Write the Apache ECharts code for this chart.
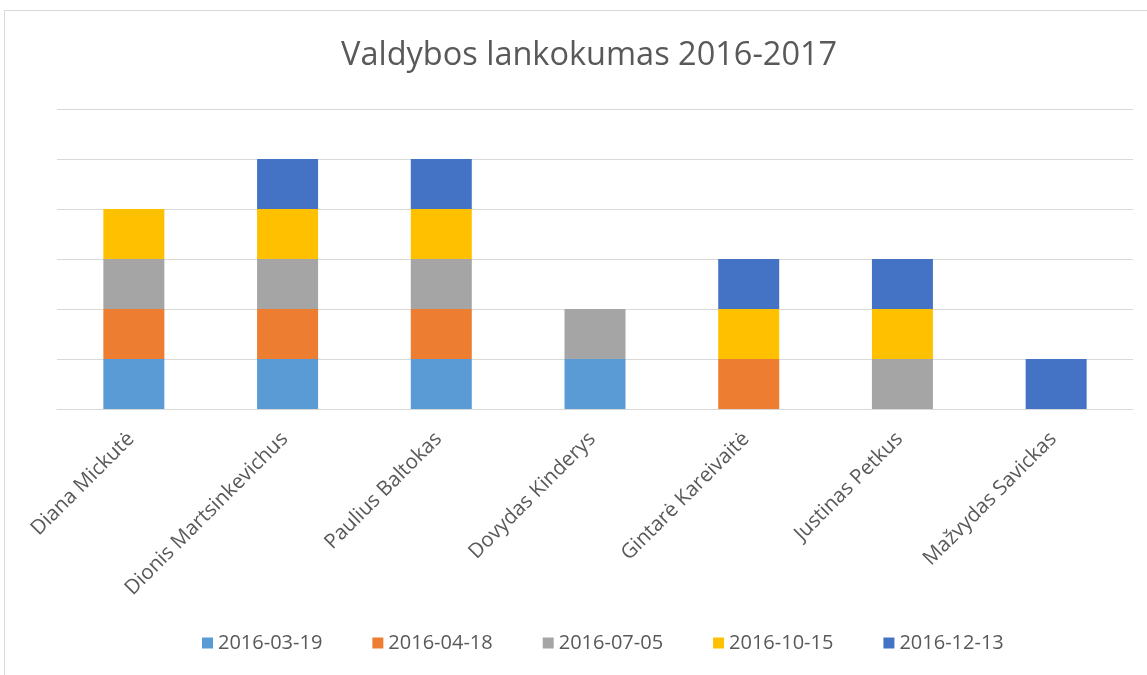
<!DOCTYPE html>
<html>
<head>
<meta charset="utf-8">
<script src="https://cdn.jsdelivr.net/npm/echarts@6/dist/echarts.min.js"></script>
<style>
  html, body { margin: 0; padding: 0; background: #fff; }
  #frame { position: absolute; left: 4px; top: 10px; width: 1150px; height: 670px; border: 1px solid #d9d9d9; box-sizing: border-box; }
  #main { position: absolute; left: 0; top: 0; width: 1147px; height: 675px; }
</style>
</head>
<body>
<div id="frame"></div>
<div id="main"></div>
<script>
var names = ['Diana Mickutė', 'Dionis Martsinkevichus', 'Paulius Baltokas', 'Dovydas Kinderys', 'Gintarė Kareivaitė', 'Justinas Petkus', 'Mažvydas Savickas'];
var dates = ['2016-03-19', '2016-04-18', '2016-07-05', '2016-10-15', '2016-12-13'];
var colors = ['#5B9BD5', '#ED7D31', '#A5A5A5', '#FFC000', '#4472C4'];
var d0319 = [1, 1, 1, 1, 0, 0, 0];
var d0418 = [1, 1, 1, 0, 1, 0, 0];
var d0705 = [1, 1, 1, 1, 0, 1, 0];
var d1015 = [1, 1, 1, 0, 1, 1, 0];
var d1213 = [0, 1, 1, 0, 1, 1, 1];
var values = [d0319, d0418, d0705, d1015, d1213];

var chart = echarts.init(document.getElementById('main'));
var series = [];
dates.forEach(function(d, i){
  series.push({
    name: d,
    type: 'bar',
    stack: 'total',
    barWidth: 61,
    itemStyle: { color: colors[i] },
    data: values[i]
  });
});

var option = {
  animation: false,
  title: {
    text: 'Valdybos lankokumas 2016-2017',
    left: 336,
    top: 34,
    textStyle: { fontFamily: 'Open Sans', fontWeight: 'normal', fontSize: 32.5, color: '#595959' }
  },
  legend: {
    bottom: 17,
    left: 197,
    itemWidth: 11,
    itemHeight: 11,
    itemGap: 50,
    icon: 'rect',
    textStyle: { fontFamily: 'Open Sans', fontSize: 20, color: '#595959' },
    data: dates
  },
  grid: { left: 57, right: 14, top: 109, bottom: 266 },
  xAxis: {
    type: 'category',
    data: names,
    axisTick: { show: false },
    axisLine: { lineStyle: { color: '#d9d9d9' } },
    axisLabel: { rotate: 45, fontFamily: 'Open Sans', fontSize: 20.5, color: '#595959', margin: 24, padding: [0, 4, 0, 0] }
  },
  yAxis: {
    type: 'value',
    min: 0,
    max: 6,
    interval: 1,
    axisLabel: { show: false },
    axisLine: { show: false },
    axisTick: { show: false },
    splitLine: { lineStyle: { color: '#d9d9d9' } }
  },
  series: series
};
chart.setOption(option);
</script>
</body>
</html>
